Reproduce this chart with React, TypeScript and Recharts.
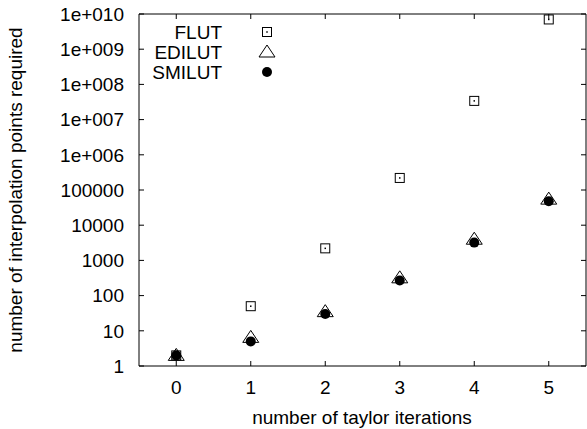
import React from "react";
import { ScatterChart, Scatter, XAxis, YAxis, Legend, ReferenceLine } from "recharts";

const iterations = [0, 1, 2, 3, 4, 5];
const flut = [2, 50, 2200, 220000, 3.4e7, 7e9];
const edilut = [2, 6.5, 35, 320, 4000, 55000];
const smilut = [2, 5, 30, 270, 3200, 48000];

const xDomain = [-0.5, 5.5];
const yDomain = [1, 1e10];
const yTicks = [1, 10, 100, 1e3, 1e4, 1e5, 1e6, 1e7, 1e8, 1e9, 1e10];
const yTickLabels = ["1", "10", "100", "1000", "10000", "100000", "1e+006", "1e+007", "1e+008", "1e+009", "1e+010"];

const seriesNames = ["FLUT", "EDILUT", "SMILUT"];

const FONT = "'Liberation Sans', Arial, Helvetica, sans-serif";
const FONT_SIZE = 19;
const TICK_LEN = 5;

const toPoints = (values: number[]) => iterations.map((x, i) => ({ x, y: values[i] }));

function BoxDot({ cx, cy }: any) {
  return (
    <g>
      <rect x={cx - 4.5} y={cy - 4.5} width={9} height={9} fill="none" stroke="#000" strokeWidth={1} />
      <rect x={cx - 0.75} y={cy - 0.75} width={1.5} height={1.5} fill="#000" />
    </g>
  );
}

function Triangle({ cx, cy }: any) {
  return (
    <polygon
      points={`${cx},${cy - 7} ${cx - 8},${cy + 5} ${cx + 8},${cy + 5}`}
      fill="none"
      stroke="#000"
      strokeWidth={1}
    />
  );
}

function Dot({ cx, cy }: any) {
  return <circle cx={cx} cy={cy} r={5} fill="#000" />;
}

const markers = [BoxDot, Triangle, Dot];

// inward tick marks at both ends of a reference line (gnuplot mirror ticks)
function VTicks(p: any) {
  const top = Math.min(p.y1, p.y2);
  const bottom = Math.max(p.y1, p.y2);
  return (
    <g stroke="#000" strokeWidth={1}>
      <line x1={p.x1} x2={p.x1} y1={top} y2={top + TICK_LEN} />
      <line x1={p.x1} x2={p.x1} y1={bottom} y2={bottom - TICK_LEN} />
    </g>
  );
}

function HTicks(p: any) {
  const left = Math.min(p.x1, p.x2);
  const right = Math.max(p.x1, p.x2);
  return (
    <g stroke="#000" strokeWidth={1}>
      <line y1={p.y1} y2={p.y1} x1={left} x2={left + TICK_LEN} />
      <line y1={p.y1} y2={p.y1} x1={right} x2={right - TICK_LEN} />
    </g>
  );
}

function renderLegend() {
  return (
    <svg width={150} height={66} style={{ display: "block" }}>
      {seriesNames.map((name, i) => {
        const Marker = markers[i];
        const y = 12 + i * 20;
        return (
          <g key={name}>
            <text
              x={82}
              y={y}
              textAnchor="end"
              dominantBaseline="central"
              fontFamily={FONT}
              fontSize={FONT_SIZE}
              fill="#000"
            >
              {name}
            </text>
            <Marker cx={127} cy={y} />
          </g>
        );
      })}
    </svg>
  );
}

export default function App() {
  const tickStyle = { fill: "#000", fontSize: FONT_SIZE, fontFamily: FONT };
  return (
    <div style={{ position: "absolute", left: 0, top: 0, background: "#fff" }}>
      <ScatterChart width={587} height={429} margin={{ top: 14, right: 1, bottom: 0, left: 0 }}>
        <XAxis
          type="number"
          dataKey="x"
          domain={xDomain}
          ticks={iterations}
          interval={0}
          allowDataOverflow
          height={63}
          tickSize={-5}
          tickMargin={20}
          tick={tickStyle}
          axisLine={false}
          tickLine={false}
          label={{
            content: () => (
              <text x={362} y={424} textAnchor="middle" fontFamily={FONT} fontSize={FONT_SIZE} fill="#000">
                number of taylor iterations
              </text>
            ),
          }}
        />
        <YAxis
          type="number"
          dataKey="y"
          scale="log"
          domain={yDomain}
          ticks={yTicks}
          interval={0}
          allowDataOverflow
          width={139}
          tickSize={-5}
          tickMargin={20}
          tick={tickStyle}
          axisLine={false}
          tickLine={false}
          tickFormatter={(v: number) => yTickLabels[yTicks.indexOf(v)] ?? String(v)}
          label={{
            content: () => (
              <text
                x={15}
                y={190}
                transform="rotate(-90 15 190)"
                textAnchor="middle"
                dominantBaseline="central"
                fontFamily={FONT}
                fontSize={FONT_SIZE}
                fill="#000"
              >
                number of interpolation points required
              </text>
            ),
          }}
        />
        {iterations.map((x) => (
          <ReferenceLine key={`xt${x}`} x={x} ifOverflow="visible" shape={VTicks} />
        ))}
        {yTicks.map((y) => (
          <ReferenceLine key={`yt${y}`} y={y} ifOverflow="visible" shape={HTicks} />
        ))}
        <ReferenceLine x={xDomain[0]} stroke="#000" strokeWidth={1} ifOverflow="visible" />
        <ReferenceLine x={xDomain[1]} stroke="#000" strokeWidth={1} ifOverflow="visible" />
        <ReferenceLine y={yDomain[0]} stroke="#000" strokeWidth={1} ifOverflow="visible" />
        <ReferenceLine y={yDomain[1]} stroke="#000" strokeWidth={1} ifOverflow="visible" />
        <Legend
          layout="vertical"
          align="center"
          verticalAlign="middle"
          wrapperStyle={{ left: 140, top: 20, width: 150, height: 66 }}
          content={renderLegend}
        />
        <Scatter name="FLUT" data={toPoints(flut)} shape={BoxDot} isAnimationActive={false} />
        <Scatter name="EDILUT" data={toPoints(edilut)} shape={Triangle} isAnimationActive={false} />
        <Scatter name="SMILUT" data={toPoints(smilut)} shape={Dot} isAnimationActive={false} />
      </ScatterChart>
    </div>
  );
}
